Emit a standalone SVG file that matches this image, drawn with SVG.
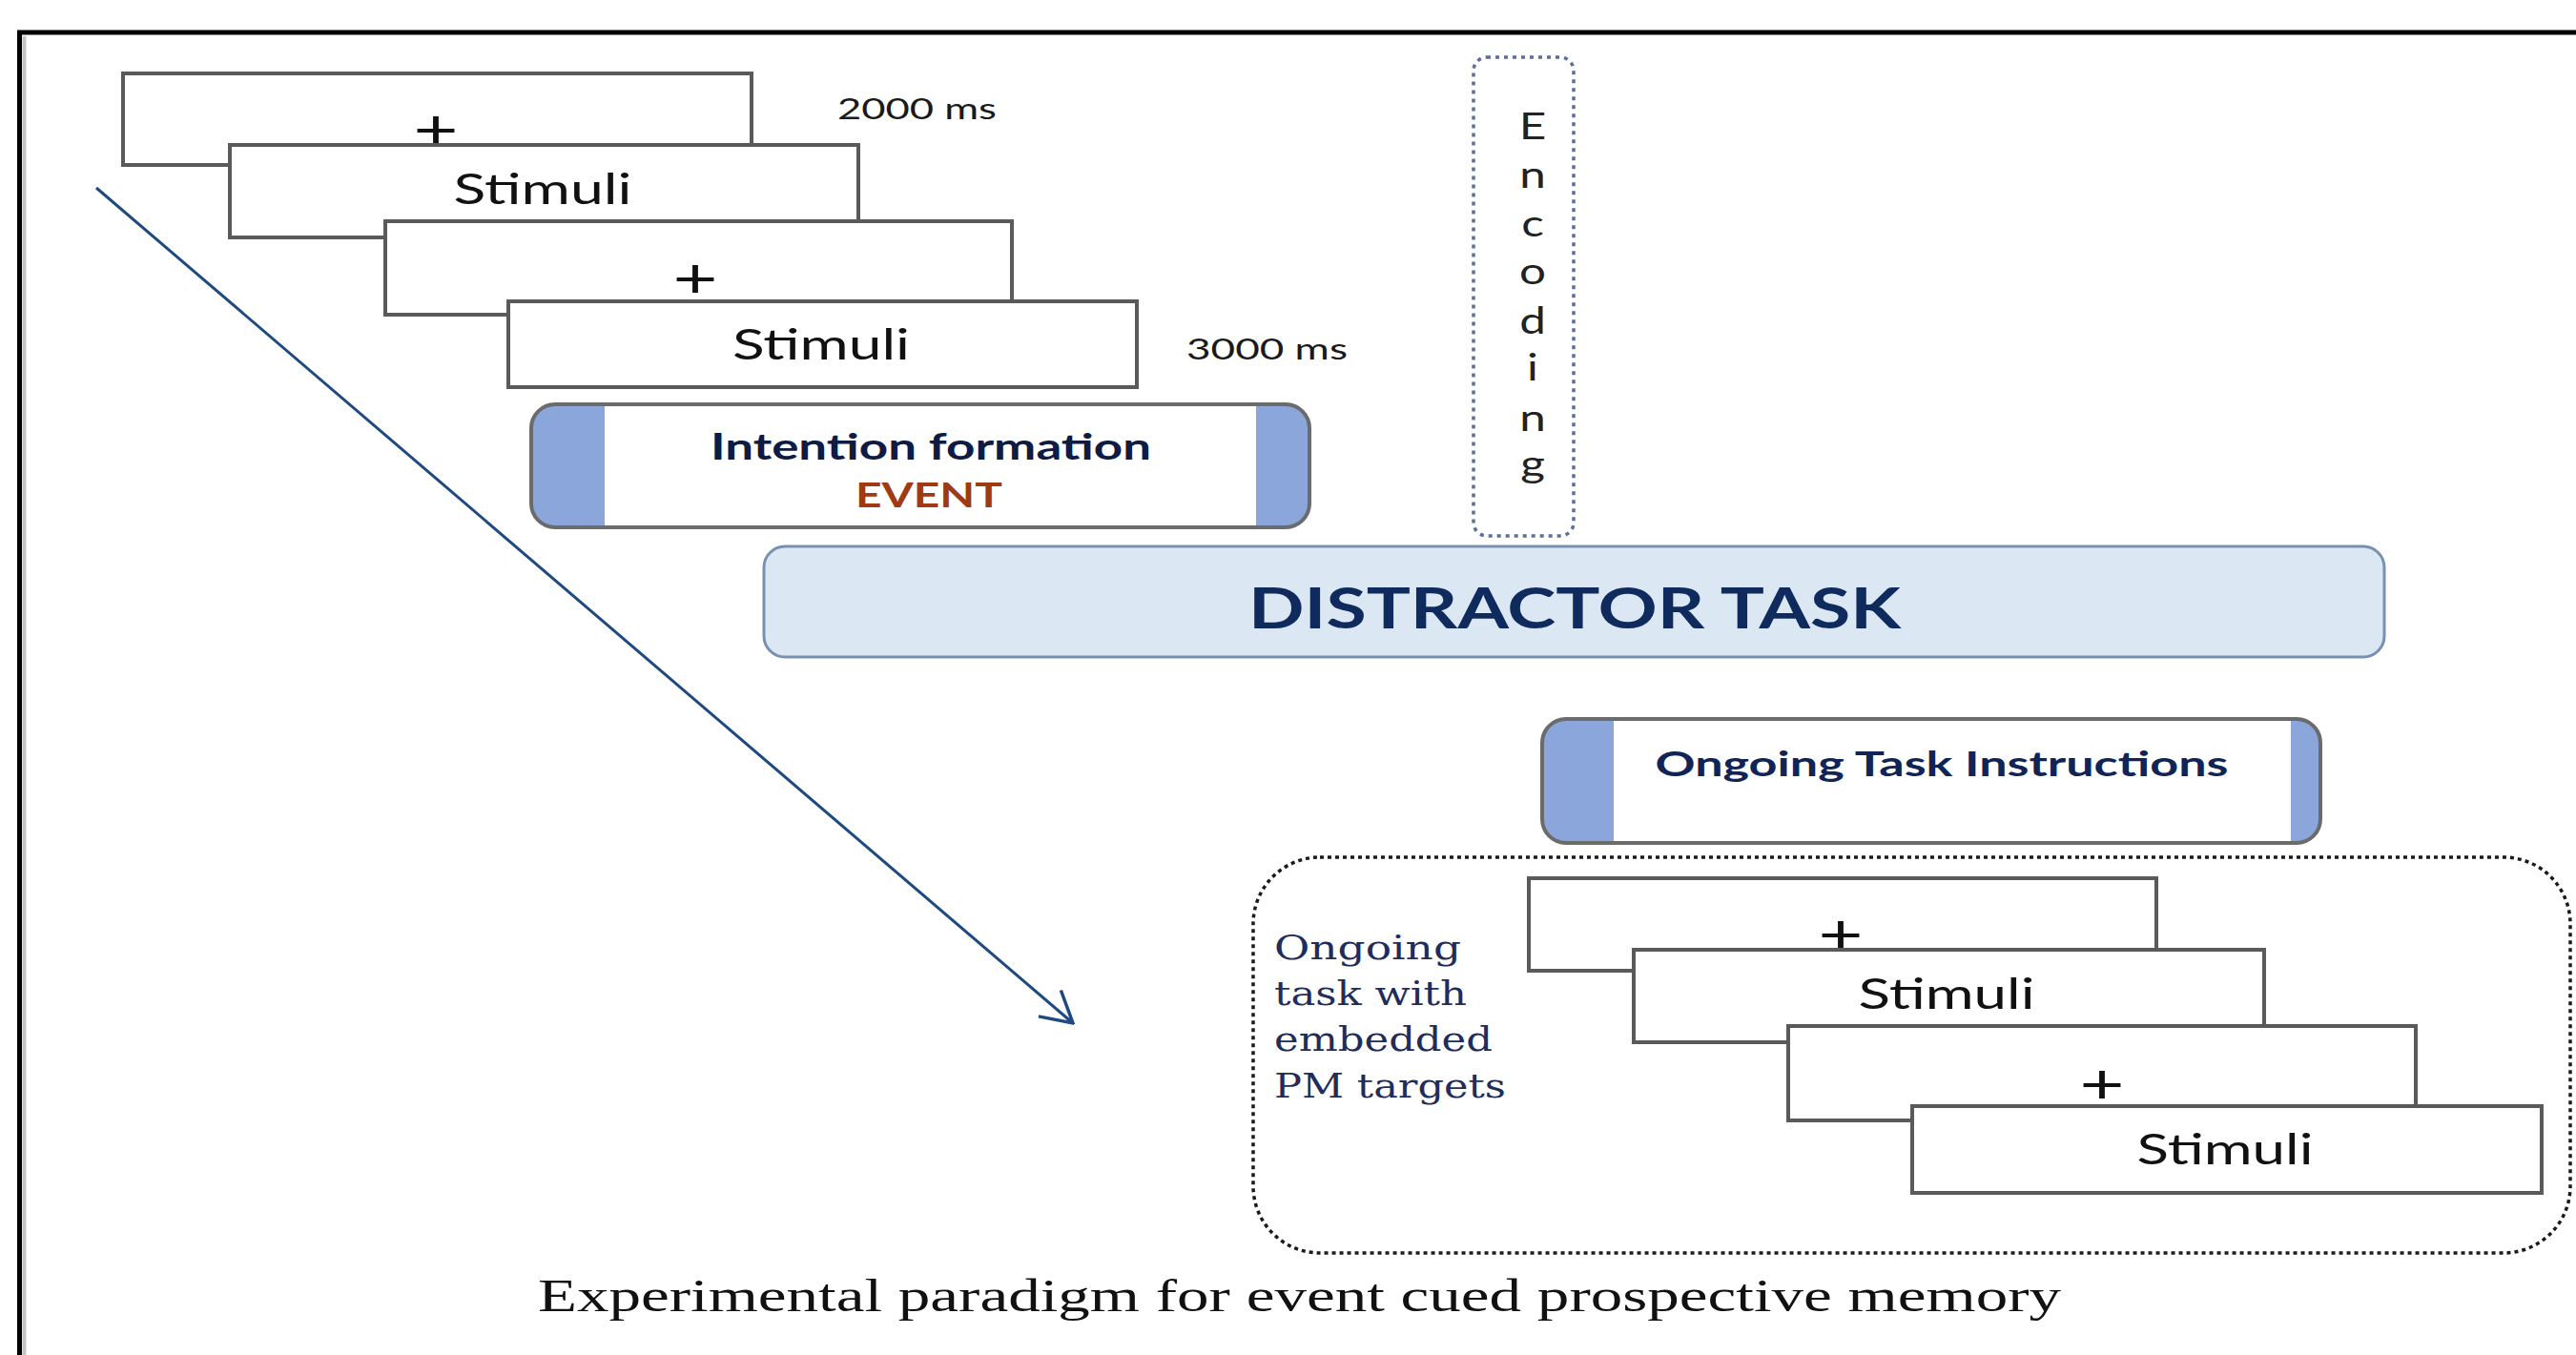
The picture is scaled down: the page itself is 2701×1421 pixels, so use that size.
<svg xmlns="http://www.w3.org/2000/svg" width="2701" height="1421" viewBox="0 0 2701 1421">
  <style>
    .frame { fill: #ffffff; stroke: #5a5a5a; stroke-width: 4; }
    .sans { font-family: Lato, "Open Sans", "Liberation Sans", sans-serif; }
    .serif { font-family: "Liberation Serif", "Times New Roman", serif; }
    .stim { font-size: 44px; fill: #111111; text-anchor: middle; }
    .plus { font-size: 58px; fill: #111111; text-anchor: middle; }
    .ms { font-size: 31px; fill: #1a1a1a; }
    .capsule { fill: #8aa6da; stroke: #6b6b6b; stroke-width: 4; }
    .capsule-core { fill: #ffffff; }
    .title { font-weight: 700; text-anchor: middle; }
    .enc { font-size: 38px; fill: #222222; text-anchor: middle; }
    .pm { font-family: "DejaVu Serif", "Liberation Serif", serif; font-size: 36px; fill: #1f2d5a; }
  </style>
  <defs>
    <marker id="openHead" viewBox="0 0 40 40" refX="38" refY="20" markerWidth="40" markerHeight="40" markerUnits="userSpaceOnUse" orient="auto">
      <path d="M 6 2 L 38 20 L 6 38" fill="none" stroke="#1e4a80" stroke-width="3.5" stroke-linejoin="miter"/>
    </marker>
  </defs>

  <rect width="2701" height="1421" fill="#ffffff"/>

  <!-- outer frame: top and left rules -->
  <g id="frame">
    <line x1="25.5" y1="38" x2="25.5" y2="1421" stroke="#c4c4c4" stroke-width="4"/>
    <line x1="18" y1="34" x2="2701" y2="34" stroke="#000000" stroke-width="5"/>
    <line x1="20.5" y1="32" x2="20.5" y2="1421" stroke="#000000" stroke-width="5"/>
  </g>

  <!-- encoding phase trial sequence -->
  <g id="enc-fix-1">
    <rect class="frame" x="129" y="77" width="659" height="96"/>
    <text class="sans plus" x="457" y="156" textLength="47" lengthAdjust="spacingAndGlyphs">+</text>
  </g>
  <g id="enc-stim-1">
    <rect class="frame" x="241" y="152" width="659" height="97"/>
    <text class="sans stim" x="569" y="214" textLength="187" lengthAdjust="spacingAndGlyphs">Stimuli</text>
  </g>
  <g id="enc-fix-2">
    <rect class="frame" x="404" y="232" width="657" height="98"/>
    <text class="sans plus" x="729" y="312" textLength="47" lengthAdjust="spacingAndGlyphs">+</text>
  </g>
  <g id="enc-stim-2">
    <rect class="frame" x="533" y="316" width="659" height="90"/>
    <text class="sans stim" x="861" y="377" textLength="186" lengthAdjust="spacingAndGlyphs">Stimuli</text>
  </g>
  <g id="label-2000">
    <text class="sans ms" x="878" y="125" textLength="167" lengthAdjust="spacingAndGlyphs">2000 ms</text>
  </g>
  <g id="label-3000">
    <text class="sans ms" x="1244" y="377" textLength="169" lengthAdjust="spacingAndGlyphs">3000 ms</text>
  </g>

  <!-- intention formation capsule -->
  <g id="intention">
    <rect class="capsule" x="557" y="424" width="816" height="129" rx="25" ry="25"/>
    <rect class="capsule-core" x="634" y="426" width="683" height="125"/>
    <text class="sans title" x="976" y="482" font-size="38" fill="#0d1b45" textLength="462" lengthAdjust="spacingAndGlyphs">Intention formation</text>
    <text class="sans title" x="974" y="532" font-size="37" fill="#a03a12" textLength="154" lengthAdjust="spacingAndGlyphs">EVENT</text>
  </g>

  <!-- vertical encoding label -->
  <g id="encoding">
    <rect x="1545" y="60" width="105" height="502" rx="14" ry="14" fill="none" stroke="#5b6f99" stroke-width="3.5" stroke-dasharray="4 5"/>
    <g transform="translate(1607 0) scale(1.3 1)">
      <text class="sans enc" x="0" y="146">E</text>
      <text class="sans enc" x="0" y="197">n</text>
      <text class="sans enc" x="0" y="248">c</text>
      <text class="sans enc" x="0" y="298">o</text>
      <text class="sans enc" x="0" y="350">d</text>
      <text class="sans enc" x="0" y="399">i</text>
      <text class="sans enc" x="0" y="452">n</text>
      <text class="sans enc" x="0" y="500">g</text>
    </g>
  </g>

  <!-- distractor task bar -->
  <g id="distractor">
    <rect x="801" y="573" width="1699" height="116" rx="22" ry="22" fill="#dce7f4" stroke="#7891b0" stroke-width="3"/>
    <text class="sans title" x="1651" y="659" font-size="59" fill="#0f2a5c" textLength="684" lengthAdjust="spacingAndGlyphs">DISTRACTOR TASK</text>
  </g>

  <!-- ongoing task instructions capsule -->
  <g id="instructions">
    <rect class="capsule" x="1617" y="754" width="816" height="130" rx="25" ry="25"/>
    <rect class="capsule-core" x="1692" y="756" width="710" height="126"/>
    <text class="sans title" x="2036" y="814" font-size="36" fill="#102456" textLength="601" lengthAdjust="spacingAndGlyphs">Ongoing Task Instructions</text>
  </g>

  <!-- ongoing task block with embedded PM targets -->
  <g id="ongoing-block">
    <rect x="1314" y="899" width="1381" height="415" rx="70" ry="70" fill="none" stroke="#1a1a1a" stroke-width="3.5" stroke-dasharray="4 4"/>
    <text class="pm" x="1336" y="1006" textLength="196" lengthAdjust="spacingAndGlyphs">Ongoing</text>
    <text class="pm" x="1336" y="1054" textLength="202" lengthAdjust="spacingAndGlyphs">task with</text>
    <text class="pm" x="1336" y="1102" textLength="229" lengthAdjust="spacingAndGlyphs">embedded</text>
    <text class="pm" x="1336" y="1151" textLength="243" lengthAdjust="spacingAndGlyphs">PM targets</text>
  </g>
  <g id="ong-fix-1">
    <rect class="frame" x="1603" y="921" width="658" height="97"/>
    <text class="sans plus" x="1930" y="1000" textLength="47" lengthAdjust="spacingAndGlyphs">+</text>
  </g>
  <g id="ong-stim-1">
    <rect class="frame" x="1713" y="996" width="661" height="97"/>
    <text class="sans stim" x="2041" y="1058" textLength="185" lengthAdjust="spacingAndGlyphs">Stimuli</text>
  </g>
  <g id="ong-fix-2">
    <rect class="frame" x="1875" y="1076" width="658" height="99"/>
    <text class="sans plus" x="2204" y="1157" textLength="47" lengthAdjust="spacingAndGlyphs">+</text>
  </g>
  <g id="ong-stim-2">
    <rect class="frame" x="2005" y="1160" width="660" height="91"/>
    <text class="sans stim" x="2333" y="1221" textLength="185" lengthAdjust="spacingAndGlyphs">Stimuli</text>
  </g>

  <!-- time-course arrow -->
  <g id="connectors">
    <line x1="101" y1="197" x2="1125" y2="1073" stroke="#1e4a80" stroke-width="3" marker-end="url(#openHead)"/>
  </g>

  <!-- caption -->
  <g id="caption">
    <text class="serif" x="564" y="1375" font-size="49" fill="#111111" textLength="1597" lengthAdjust="spacingAndGlyphs">Experimental paradigm for event cued prospective memory</text>
  </g>
</svg>
